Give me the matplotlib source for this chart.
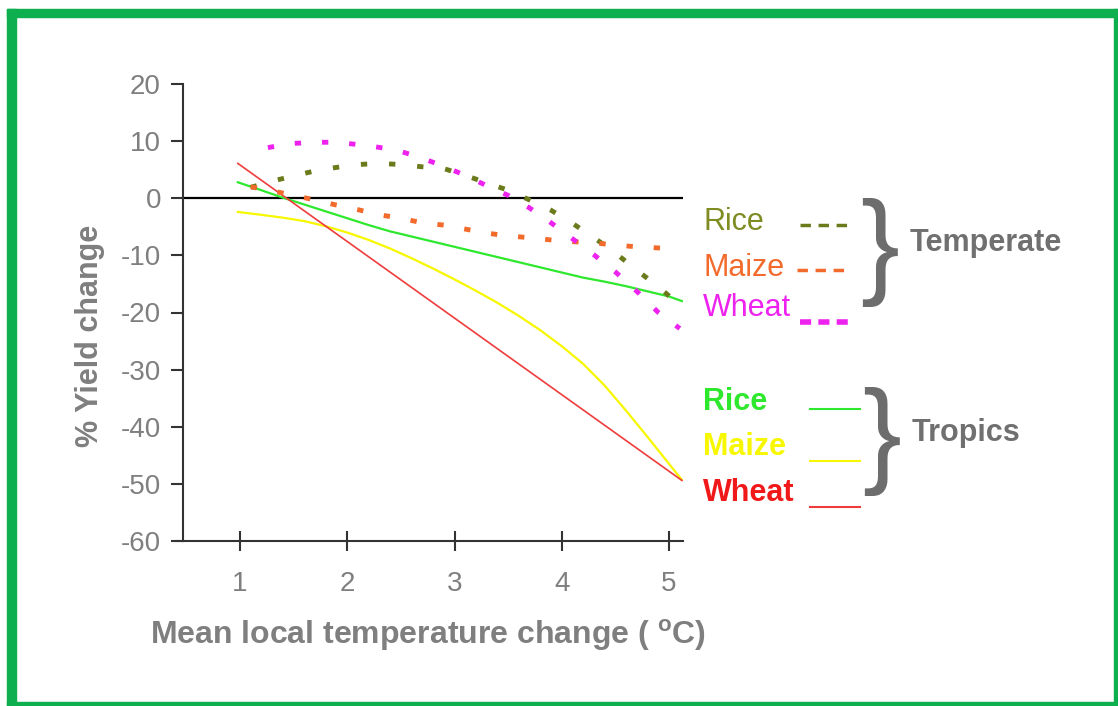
import matplotlib
matplotlib.use("Agg")
import matplotlib.pyplot as plt
from matplotlib.lines import Line2D
from matplotlib.patches import Rectangle

plt.rcParams['font.family'] = ['Liberation Sans', 'DejaVu Sans']
plt.rcParams['axes.unicode_minus'] = False

W, H = 1118, 706

# temperate series (dotted)
temp_x = [1.1, 1.3, 1.5, 1.7, 1.9, 2.1, 2.3, 2.5, 2.7, 2.9, 3.1,
          3.3, 3.5, 3.7, 3.9, 4.1, 4.3, 4.5, 4.7, 4.9, 5.1]
rice_temperate = [1.9, 3.0, 3.9, 4.8, 5.4, 5.9, 6.1, 5.9, 5.5, 5.2, 4.0,
                  2.7, 1.4, -0.3, -2.1, -4.4, -6.9, -9.6, -12.6, -15.5, -18.7]
maize_temperate = [2.0, 1.3, 0.5, -0.3, -1.2, -2.0, -2.9, -3.5, -4.3, -4.7, -5.4,
                   -6.1, -6.6, -6.9, -7.3, -7.6, -7.8, -8.2, -8.5, -8.7, -9.0]
wheat_temperate = [8.3, 9.0, 9.6, 9.8, 9.8, 9.4, 8.9, 8.2, 7.0, 5.6, 4.0,
                   2.2, 0.5, -1.7, -4.3, -7.1, -9.9, -12.9, -16.3, -20.0, -22.8]

# tropics series (solid)
trop_x = [0.98, 1.2, 1.4, 1.6, 1.8, 2.0, 2.2, 2.4, 2.6, 2.8, 3.0,
          3.2, 3.4, 3.6, 3.8, 4.0, 4.2, 4.4, 4.6, 4.8, 5.0, 5.12]
rice_tropics = [2.8, 1.4, 0.1, -1.1, -2.3, -3.5, -4.7, -5.8, -6.7, -7.6, -8.5,
                -9.4, -10.3, -11.2, -12.1, -13.0, -13.9, -14.6, -15.4, -16.3, -17.2, -18.0]
maize_tropics = [-2.4, -2.9, -3.4, -4.0, -4.9, -6.0, -7.3, -8.8, -10.5, -12.3, -14.2,
                 -16.2, -18.3, -20.6, -23.1, -25.9, -29.0, -32.8, -37.2, -41.8, -46.5, -49.3]
wheat_x = [0.98, 5.12]
wheat_tropics = [6.1, -49.4]

x_ticks = [1, 2, 3, 4, 5]
y_ticks = [20, 10, 0, -10, -20, -30, -40, -50, -60]

c_rice_t, c_maize_t, c_wheat_t = '#6C7A1C', '#F26A2C', '#EE22EE'
c_rice_tr, c_maize_tr, c_wheat_tr = '#2EE82E', '#F7F700', '#EE3C3C'
grey = '#7F7F7F'
dark = '#333333'


def fx(x):
    return x / W


def fy(y):
    return 1 - y / H


fig = plt.figure(figsize=(W / 100, H / 100), dpi=100)
ax = fig.add_axes([fx(175.6), fy(541), (683 - 175.6) / W, (541 - 84) / H])

ax.plot([0.47, 5.13], [0, 0], color='black', lw=1.6, zorder=1)

ax.plot(temp_x, rice_temperate, color=c_rice_t, lw=3.5, linestyle=(0, (1.3, 4.5)), zorder=3)
ax.plot(temp_x, maize_temperate, color=c_maize_t, lw=3.5, linestyle=(0, (1.3, 4.3)), zorder=3)
ax.plot(temp_x, wheat_temperate, color=c_wheat_t, lw=3.5, linestyle=(2, (1.3, 4.3)), zorder=3)

ax.plot(trop_x, rice_tropics, color=c_rice_tr, lw=1.6, zorder=2)
ax.plot(trop_x, maize_tropics, color=c_maize_tr, lw=1.6, zorder=2)
ax.plot(wheat_x, wheat_tropics, color=c_wheat_tr, lw=1.2, zorder=2)

ax.set_xlim(0.40, 5.13)
ax.set_ylim(-60, 20)
ax.spines['top'].set_visible(False)
ax.spines['right'].set_visible(False)
ax.spines['left'].set_position(('data', 0.47))
for s in ('left', 'bottom'):
    ax.spines[s].set_color(dark)
    ax.spines[s].set_linewidth(1.5)

ax.set_xticks(x_ticks)
ax.set_yticks(y_ticks)
ax.tick_params(axis='x', direction='inout', length=15, width=1.5, color=dark,
               labelsize=20, labelcolor=grey, pad=14)
ax.tick_params(axis='y', direction='out', length=9, width=1.5, color=dark,
               labelsize=20, labelcolor=grey, pad=7)

fig.text(fx(428), fy(635), 'Mean local temperature change ( $^\\mathregular{o}$C)',
         ha='center', va='center', fontsize=23, fontweight='bold', color=grey)
fig.text(fx(90), fy(336), '% Yield change', rotation=90, ha='center', va='center',
         fontsize=22, fontweight='bold', color=grey)

# legend block: temperate
fig.text(fx(703), fy(222), 'Rice', fontsize=22, color='#7E8C22', va='center')
fig.text(fx(703), fy(268), 'Maize', fontsize=22, color=c_maize_t, va='center')
fig.text(fx(703), fy(308), 'Wheat', fontsize=22, color=c_wheat_t, va='center')
dash = (0, (3, 2.2))
fig.add_artist(Line2D([fx(800), fx(850)], [fy(225), fy(225)], color=c_rice_t, lw=2.5, linestyle=dash))
fig.add_artist(Line2D([fx(797), fx(850)], [fy(270), fy(270)], color=c_maize_t, lw=2.5, linestyle=dash))
fig.add_artist(Line2D([fx(800), fx(850)], [fy(322), fy(322)], color=c_wheat_t, lw=4, linestyle=(0, (2, 1.3))))
fig.text(fx(880), fy(253), '}', fontsize=84, color='#6D6D6D', ha='center', va='center')
fig.text(fx(910), fy(243), 'Temperate', fontsize=22, fontweight='bold', color='#707070', va='center')

# legend block: tropics
fig.text(fx(703), fy(402), 'Rice', fontsize=22, fontweight='bold', color=c_rice_tr, va='center')
fig.text(fx(703), fy(447), 'Maize', fontsize=22, fontweight='bold', color=c_maize_tr, va='center')
fig.text(fx(703), fy(493), 'Wheat', fontsize=22, fontweight='bold', color='#F01818', va='center')
fig.add_artist(Line2D([fx(810), fx(860)], [fy(409), fy(409)], color=c_rice_tr, lw=1.5))
fig.add_artist(Line2D([fx(810), fx(860)], [fy(461), fy(461)], color=c_maize_tr, lw=1.5))
fig.add_artist(Line2D([fx(810), fx(860)], [fy(507), fy(507)], color=c_wheat_tr, lw=1.5))
fig.text(fx(882), fy(441), '}', fontsize=84, color='#6D6D6D', ha='center', va='center')
fig.text(fx(912), fy(433), 'Tropics', fontsize=22, fontweight='bold', color='#707070', va='center')

# green frame
green = '#0DAF4F'
fig.add_artist(Rectangle((fx(7), 0), 9 / W, fy(9), transform=fig.transFigure, color=green))
fig.add_artist(Rectangle((fx(7), fy(17)), (1117 - 7) / W, 8 / H, transform=fig.transFigure, color=green))
fig.add_artist(Rectangle((fx(1114), 0), 3 / W, fy(9), transform=fig.transFigure, color=green))
fig.add_artist(Rectangle((fx(7), fy(705)), (1117 - 7) / W, 3 / H, transform=fig.transFigure, color=green))

fig.savefig('out.png', dpi=100)
